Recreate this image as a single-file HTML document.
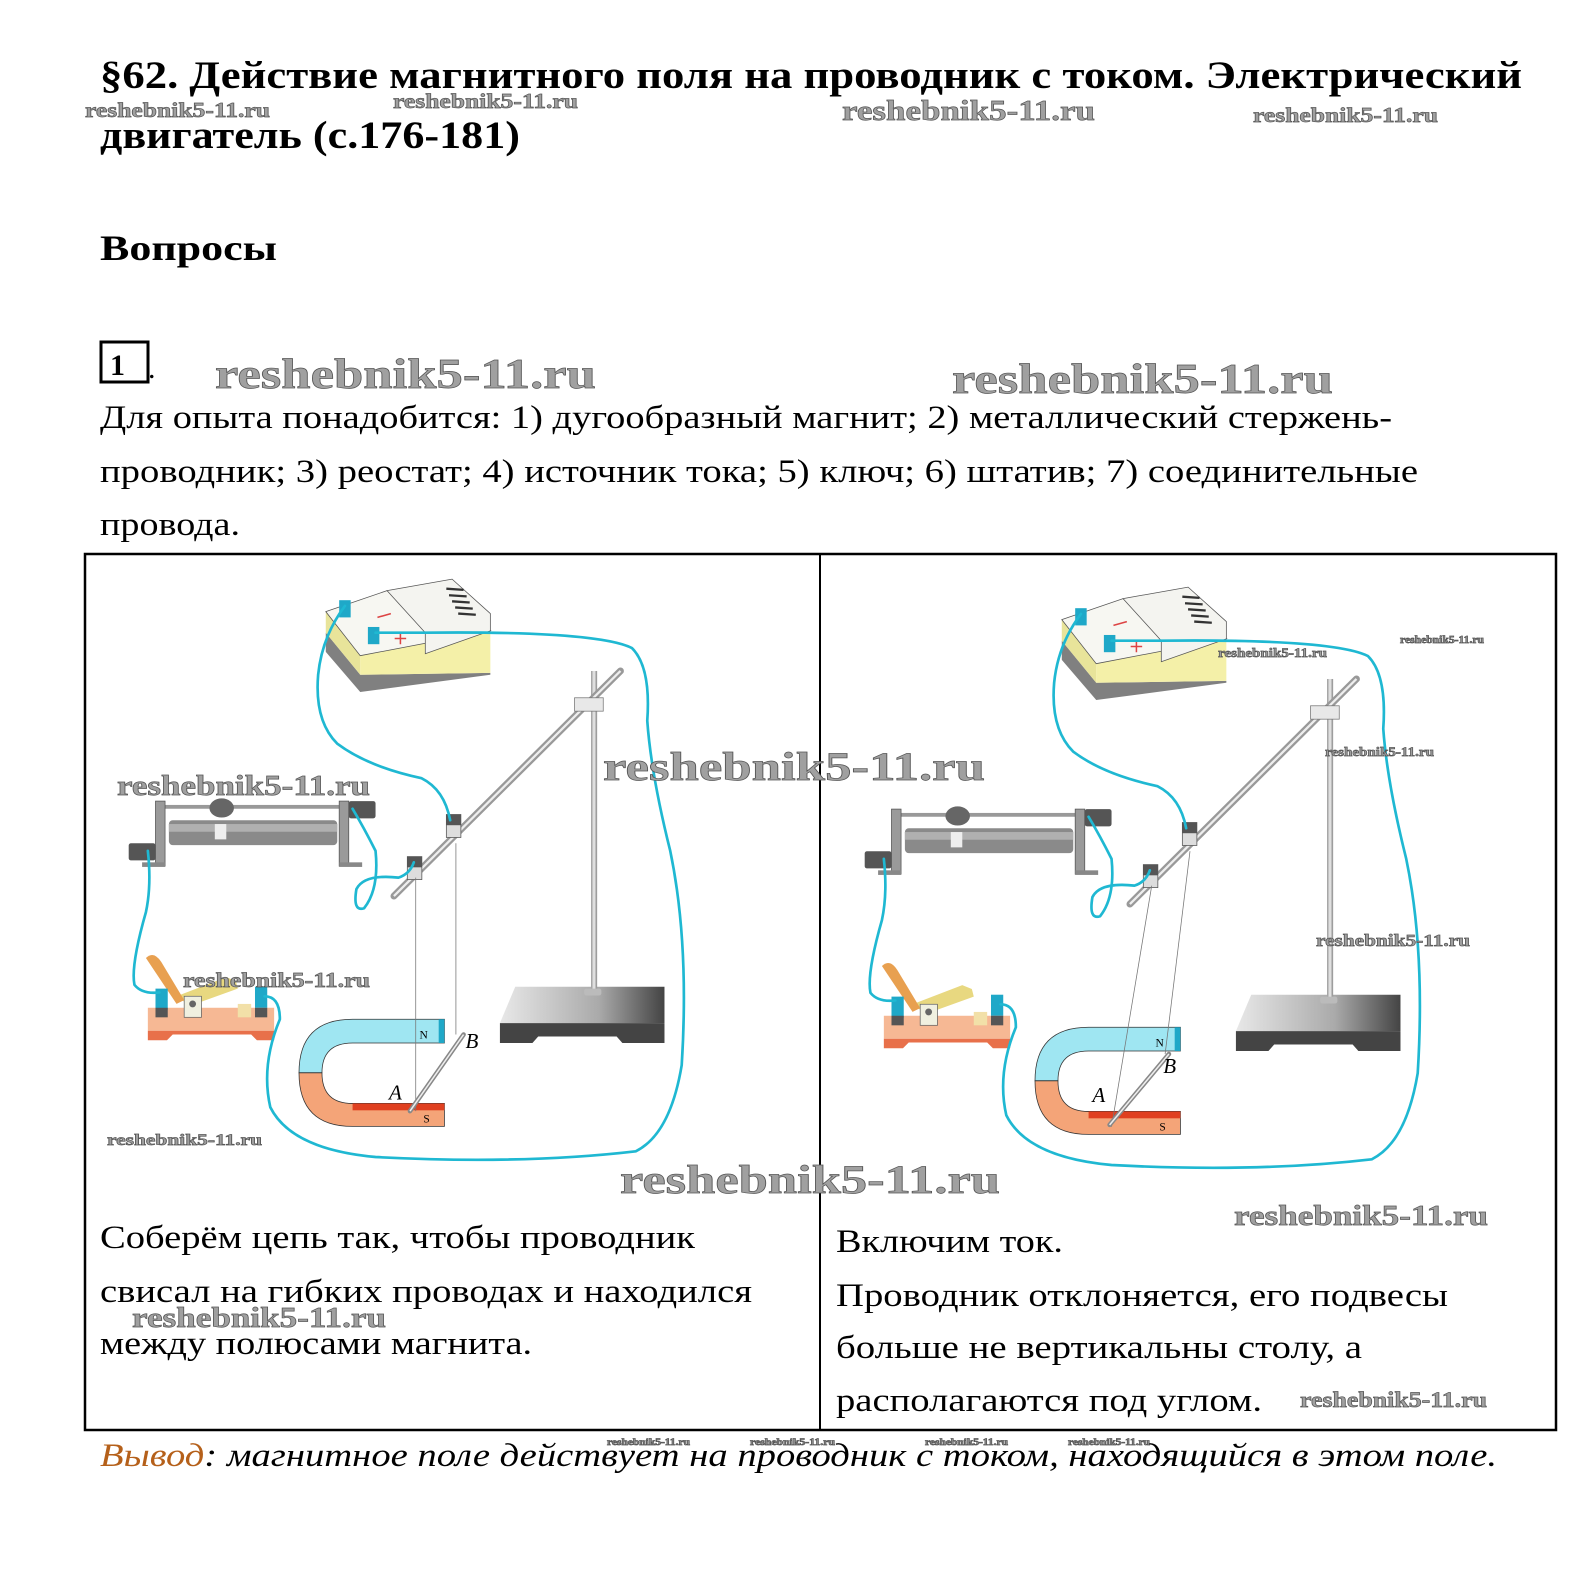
<!DOCTYPE html>
<html><head><meta charset="utf-8"><style>
html,body{margin:0;padding:0;background:#fff;overflow:hidden;width:1582px;height:1575px;}
svg{display:block;}
.t{font-family:"Liberation Serif","DejaVu Serif",serif;fill:#000;}
.w{font-family:"Liberation Serif","DejaVu Serif",serif;font-weight:bold;fill:#a0a0a0;stroke:#555;stroke-width:0.7;}
.wire{fill:none;stroke:#1fb8d2;stroke-width:7;stroke-linecap:round;stroke-linejoin:round;}
</style></head><body>
<svg width="1582" height="1575" viewBox="0 0 1582 1575" xmlns="http://www.w3.org/2000/svg">
<defs>
<linearGradient id="rodg" x1="0" y1="0" x2="1" y2="0"><stop offset="0" stop-color="#999"/><stop offset=".5" stop-color="#eee"/><stop offset="1" stop-color="#888"/></linearGradient>
<linearGradient id="baseg" x1="0" y1="0" x2="1" y2="0"><stop offset="0" stop-color="#e8e8e8"/><stop offset=".6" stop-color="#aaa"/><stop offset="1" stop-color="#444"/></linearGradient>
<g id="app">
  <!-- power supply -->
  <polygon points="590,190 680,300 1020,295 1020,300 680,345 590,240" fill="#808080"/>
  <polygon points="590,135 680,250 680,300 590,190" fill="#e8e49a"/>
  <polygon points="680,250 1020,185 1020,295 680,300" fill="#f4f0a8"/>
  <polygon points="590,135 750,80 1020,185 680,250" fill="#f7f7f2" stroke="#555" stroke-width="2"/>
  <polygon points="750,80 920,50 1020,140 1020,185 850,245 850,190" fill="#f4f4f0" stroke="#555" stroke-width="2"/>
  <g stroke="#333" stroke-width="6"><line x1="905" y1="75" x2="950" y2="78"/><line x1="912" y1="92" x2="958" y2="95"/><line x1="920" y1="108" x2="966" y2="111"/><line x1="928" y1="124" x2="974" y2="127"/><line x1="936" y1="140" x2="982" y2="143"/></g>
  <line x1="725" y1="150" x2="760" y2="140" stroke="#d44" stroke-width="4"/>
  <path d="M770,205 l30,0 M785,190 l0,30" stroke="#d44" stroke-width="4"/>
  <rect x="625" y="105" width="30" height="45" fill="#1fa8c8"/>
  <rect x="700" y="175" width="30" height="45" fill="#1fa8c8"/>
  <!-- rheostat -->
  <rect x="155" y="640" width="470" height="10" fill="#999"/>
  <rect x="180" y="680" width="440" height="65" rx="10" fill="#8a8a8a"/>
  <rect x="180" y="690" width="440" height="20" fill="#b0b0b0"/>
  <rect x="145" y="630" width="25" height="170" fill="#9a9a9a" stroke="#555" stroke-width="2"/>
  <rect x="625" y="630" width="25" height="170" fill="#9a9a9a" stroke="#555" stroke-width="2"/>
  <rect x="110" y="790" width="60" height="12" fill="#888"/>
  <rect x="625" y="790" width="60" height="12" fill="#888"/>
  <rect x="75" y="740" width="70" height="45" rx="6" fill="#555"/>
  <rect x="650" y="630" width="70" height="45" rx="6" fill="#555"/>
  <ellipse cx="318" cy="648" rx="32" ry="25" fill="#666"/>
  <rect x="300" y="690" width="30" height="40" fill="#eee"/>
  <!-- key -->
  <rect x="125" y="1170" width="330" height="60" fill="#f6b894"/>
  <polygon points="125,1230 455,1230 455,1255 410,1255 395,1240 190,1240 175,1255 125,1255" fill="#e8704a"/>
  <rect x="360" y="1160" width="35" height="35" fill="#f2e0a8"/>
  <polygon points="200,1140 330,1090 355,1100 360,1120 235,1165" fill="#e8d880"/>
  <rect x="220" y="1140" width="45" height="55" fill="#f0f0e0" stroke="#666" stroke-width="2"/>
  <circle cx="242" cy="1160" r="9" fill="#666"/>
  <path d="M120,1040 q20,-20 40,10 l60,100 l-20,10 z" fill="#e8a050"/>
  <rect x="145" y="1120" width="32" height="55" fill="#1fa8c8"/>
  <rect x="405" y="1115" width="32" height="55" fill="#1fa8c8"/>
  <rect x="145" y="1170" width="32" height="25" fill="#555"/>
  <rect x="405" y="1170" width="32" height="25" fill="#555"/>
  <!-- stand -->
  <polygon points="1085,1115 1475,1115 1475,1210 1045,1210" fill="url(#baseg)"/>
  <polygon points="1045,1210 1475,1210 1475,1262 1365,1262 1350,1245 1145,1245 1130,1262 1045,1262" fill="#444"/>
  <rect x="1283" y="290" width="16" height="840" fill="url(#rodg)"/>
  <rect x="1265" y="1120" width="45" height="18" rx="6" fill="#bbb"/>
  <line x1="1360" y1="290" x2="768" y2="878" stroke="#999" stroke-width="18" stroke-linecap="round"/>
  <line x1="1360" y1="290" x2="768" y2="878" stroke="#eee" stroke-width="6"/>
  <rect x="1240" y="360" width="75" height="35" fill="#e8e8e8" stroke="#777" stroke-width="2"/>
  <rect x="905" y="665" width="38" height="60" fill="#ddd" stroke="#555" stroke-width="2"/>
  <rect x="905" y="665" width="38" height="28" fill="#555"/>
  <rect x="803" y="775" width="38" height="60" fill="#ddd" stroke="#555" stroke-width="2"/>
  <rect x="803" y="775" width="38" height="28" fill="#555"/>
  <!-- magnet -->
  <path d="M900,1200 L660,1200 Q520,1200 520,1340 L580,1340 Q580,1262 660,1262 L900,1262 Z" fill="#9fe6f2" stroke="#333" stroke-width="2"/>
  <path d="M520,1340 Q520,1480 660,1480 L900,1480 L900,1420 L660,1420 Q580,1420 580,1340 Z" fill="#f4a478" stroke="#333" stroke-width="2"/>
  <rect x="660" y="1420" width="240" height="18" fill="#e04020"/>
  <rect x="885" y="1200" width="15" height="62" fill="#1fa8c8"/>
</g>
</defs>

<text class="t" x="100" y="88" font-size="39" font-weight="bold" textLength="1422" lengthAdjust="spacingAndGlyphs">§62. Действие магнитного поля на проводник с током. Электрический</text>
<text class="t" x="100" y="148" font-size="39" font-weight="bold" textLength="420" lengthAdjust="spacingAndGlyphs">двигатель (с.176-181)</text>
<text class="t" x="100" y="260" font-size="36" font-weight="bold" textLength="177" lengthAdjust="spacingAndGlyphs">Вопросы</text>
<rect x="101" y="342" width="47" height="40" fill="none" stroke="#000" stroke-width="3"/>
<text class="t" x="110" y="375" font-size="30" font-weight="bold">1</text>
<text class="t" x="148" y="378" font-size="30">.</text>
<text class="t" x="100" y="428" font-size="33" textLength="1292" lengthAdjust="spacingAndGlyphs">Для опыта понадобится: 1) дугообразный магнит; 2) металлический стержень-</text>
<text class="t" x="100" y="482" font-size="33" textLength="1318" lengthAdjust="spacingAndGlyphs">проводник; 3) реостат; 4) источник тока; 5) ключ; 6) штатив; 7) соединительные</text>
<text class="t" x="100" y="535" font-size="33" textLength="140" lengthAdjust="spacingAndGlyphs">провода.</text>

<rect x="85" y="554" width="1471" height="876" fill="none" stroke="#000" stroke-width="2.5"/>
<line x1="820" y1="554" x2="820" y2="1430" stroke="#000" stroke-width="2"/>

<g transform="translate(100,560) scale(0.3827)">
  <use href="#app"/>
  <line x1="825" y1="830" x2="825" y2="1440" stroke="#777" stroke-width="2"/>
  <line x1="930" y1="740" x2="930" y2="1240" stroke="#777" stroke-width="2"/>
  <line x1="810" y1="1440" x2="950" y2="1240" stroke="#888" stroke-width="12" stroke-linecap="round"/>
  <line x1="810" y1="1440" x2="950" y2="1240" stroke="#eee" stroke-width="4"/>
  <text x="835" y="1250" font-family="Liberation Serif,serif" font-size="30">N</text>
  <text x="845" y="1470" font-family="Liberation Serif,serif" font-size="30">S</text>
  <text x="955" y="1275" font-family="Liberation Serif,serif" font-style="italic" font-size="55">B</text>
  <text x="755" y="1410" font-family="Liberation Serif,serif" font-style="italic" font-size="55">A</text>
  <path class="wire" d="M720,190 L850,190 Q1300,185 1390,230 Q1440,280 1430,420 Q1440,560 1490,760 Q1540,1000 1520,1320 Q1490,1500 1400,1545 Q1100,1580 720,1560 Q500,1540 445,1430 Q420,1320 470,1200 Q470,1140 430,1140"/>
  <path class="wire" d="M640,120 Q580,200 570,300 Q560,420 620,480 Q700,540 840,570 Q900,600 915,680"/>
  <path class="wire" d="M660,650 Q690,700 720,760 Q730,860 690,910 Q660,920 670,860 Q690,820 780,830 Q810,820 820,790"/>
  <path class="wire" d="M125,760 Q135,850 120,920 Q80,1060 90,1110 Q110,1135 155,1130"/>
</g>

<g transform="translate(836,568) scale(0.3827)">
  <use href="#app"/>
  <line x1="825" y1="830" x2="720" y2="1460" stroke="#777" stroke-width="2"/>
  <line x1="925" y1="740" x2="860" y2="1270" stroke="#777" stroke-width="2"/>
  <line x1="715" y1="1455" x2="870" y2="1270" stroke="#888" stroke-width="12" stroke-linecap="round"/>
  <line x1="715" y1="1455" x2="870" y2="1270" stroke="#eee" stroke-width="4"/>
  <text x="835" y="1250" font-family="Liberation Serif,serif" font-size="30">N</text>
  <text x="845" y="1470" font-family="Liberation Serif,serif" font-size="30">S</text>
  <text x="855" y="1320" font-family="Liberation Serif,serif" font-style="italic" font-size="55">B</text>
  <text x="670" y="1395" font-family="Liberation Serif,serif" font-style="italic" font-size="55">A</text>
  <path class="wire" d="M720,190 L850,190 Q1300,185 1390,230 Q1440,280 1430,420 Q1440,560 1490,760 Q1540,1000 1520,1320 Q1490,1500 1400,1545 Q1100,1580 720,1560 Q500,1540 445,1430 Q420,1320 470,1200 Q470,1140 430,1140"/>
  <path class="wire" d="M640,120 Q580,200 570,300 Q560,420 620,480 Q700,540 840,570 Q900,600 915,680"/>
  <path class="wire" d="M660,650 Q690,700 720,760 Q730,860 690,910 Q660,920 670,860 Q690,820 780,830 Q810,820 820,790"/>
  <path class="wire" d="M125,760 Q135,850 120,920 Q80,1060 90,1110 Q110,1135 155,1130"/>
</g>

<text class="t" x="100" y="1248" font-size="33" textLength="595" lengthAdjust="spacingAndGlyphs">Соберём цепь так, чтобы проводник</text>
<text class="t" x="100" y="1302" font-size="33" textLength="652" lengthAdjust="spacingAndGlyphs">свисал на гибких проводах и находился</text>
<text class="t" x="100" y="1354" font-size="33" textLength="432" lengthAdjust="spacingAndGlyphs">между полюсами магнита.</text>
<text class="t" x="836" y="1252" font-size="33" textLength="227" lengthAdjust="spacingAndGlyphs">Включим ток.</text>
<text class="t" x="836" y="1306" font-size="33" textLength="612" lengthAdjust="spacingAndGlyphs">Проводник отклоняется, его подвесы</text>
<text class="t" x="836" y="1358" font-size="33" textLength="526" lengthAdjust="spacingAndGlyphs">больше не вертикальны столу, а</text>
<text class="t" x="836" y="1411" font-size="33" textLength="426" lengthAdjust="spacingAndGlyphs">располагаются под углом.</text>

<text class="t" x="100" y="1466" font-size="33" font-style="italic" textLength="1397" lengthAdjust="spacingAndGlyphs"><tspan fill="#b5601a">Вывод</tspan>: магнитное поле действует на проводник с током, находящийся в этом поле.</text>

<g class="w">
<text x="85" y="117" font-size="21" textLength="185" lengthAdjust="spacingAndGlyphs">reshebnik5-11.ru</text>
<text x="393" y="108" font-size="21" textLength="185" lengthAdjust="spacingAndGlyphs">reshebnik5-11.ru</text>
<text x="842" y="120" font-size="29" textLength="253" lengthAdjust="spacingAndGlyphs">reshebnik5-11.ru</text>
<text x="1253" y="122" font-size="21" textLength="185" lengthAdjust="spacingAndGlyphs">reshebnik5-11.ru</text>
<text x="215" y="388" font-size="42" textLength="381" lengthAdjust="spacingAndGlyphs">reshebnik5-11.ru</text>
<text x="952" y="393" font-size="42" textLength="381" lengthAdjust="spacingAndGlyphs">reshebnik5-11.ru</text>
<text x="117" y="795" font-size="28" textLength="253" lengthAdjust="spacingAndGlyphs">reshebnik5-11.ru</text>
<text x="603" y="780" font-size="40" textLength="382" lengthAdjust="spacingAndGlyphs">reshebnik5-11.ru</text>
<text x="183" y="987" font-size="21" textLength="187" lengthAdjust="spacingAndGlyphs">reshebnik5-11.ru</text>
<text x="107" y="1145" font-size="16" textLength="155" lengthAdjust="spacingAndGlyphs">reshebnik5-11.ru</text>
<text x="620" y="1193" font-size="40" textLength="380" lengthAdjust="spacingAndGlyphs">reshebnik5-11.ru</text>
<text x="1234" y="1225" font-size="29" textLength="254" lengthAdjust="spacingAndGlyphs">reshebnik5-11.ru</text>
<text x="132" y="1327" font-size="29" textLength="254" lengthAdjust="spacingAndGlyphs">reshebnik5-11.ru</text>
<text x="1300" y="1407" font-size="22" textLength="187" lengthAdjust="spacingAndGlyphs">reshebnik5-11.ru</text>
<text x="1218" y="657" font-size="13" textLength="109" lengthAdjust="spacingAndGlyphs">reshebnik5-11.ru</text>
<text x="1400" y="643" font-size="10" textLength="84" lengthAdjust="spacingAndGlyphs">reshebnik5-11.ru</text>
<text x="1325" y="756" font-size="13" textLength="109" lengthAdjust="spacingAndGlyphs">reshebnik5-11.ru</text>
<text x="1316" y="946" font-size="17" textLength="154" lengthAdjust="spacingAndGlyphs">reshebnik5-11.ru</text>
<text x="607" y="1445" font-size="9" textLength="83" lengthAdjust="spacingAndGlyphs">reshebnik5-11.ru</text>
<text x="750" y="1445" font-size="9" textLength="85" lengthAdjust="spacingAndGlyphs">reshebnik5-11.ru</text>
<text x="925" y="1445" font-size="9" textLength="83" lengthAdjust="spacingAndGlyphs">reshebnik5-11.ru</text>
<text x="1068" y="1445" font-size="9" textLength="82" lengthAdjust="spacingAndGlyphs">reshebnik5-11.ru</text>
</g>
</svg>
</body></html>
